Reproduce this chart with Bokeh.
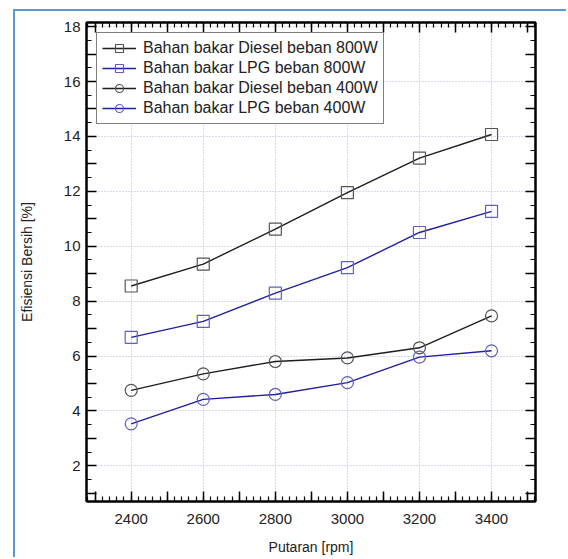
from bokeh.plotting import figure
from bokeh.models import (LinearAxis, SingleIntervalTicker, Range1d, Legend, LegendItem)
from bokeh.embed import file_html
from bokeh.resources import INLINE

rpm = [2400, 2600, 2800, 3000, 3200, 3400]
diesel_800 = [8.55, 9.35, 10.62, 11.95, 13.21, 14.07]
lpg_800 = [6.68, 7.26, 8.29, 9.22, 10.50, 11.27]
diesel_400 = [4.75, 5.35, 5.80, 5.93, 6.30, 7.46]
lpg_400 = [3.53, 4.42, 4.60, 5.03, 5.96, 6.19]

labels = ["Bahan bakar Diesel beban 800W", "Bahan bakar LPG beban 800W",
          "Bahan bakar Diesel beban 400W", "Bahan bakar LPG beban 400W"]

x_label = "Putaran [rpm]"
y_label = "Efisiensi Bersih [%]"

FONT = "Liberation Sans"
BLACK_LINE = "#1e1e1e"
BLUE_LINE = "#1f1fa0"
BLACK_MK = "#555555"
BLUE_MK = "#6060c0"

p = figure(frame_width=449, frame_height=479, output_backend="svg", toolbar_location=None,
           x_range=Range1d(2276, 3522), y_range=Range1d(0.7, 18.15),
           min_border_left=71, min_border_top=11, min_border_right=33, min_border_bottom=58,
           x_axis_location=None, y_axis_location=None)
p.margin = (11, 0, 0, 15)
p.styles = {"box-shadow": "-2px -2px 0px 0px #5b9bd5"}
p.background_fill_color = "white"
p.border_fill_color = "white"
p.outline_line_color = "black"
p.outline_line_width = 2

xt = SingleIntervalTicker(interval=100, num_minor_ticks=5)
yt = SingleIntervalTicker(interval=1, num_minor_ticks=2)
x_over = {v: "" for v in range(2200, 3700, 100) if v % 200 != 0}
y_over = {v: "" for v in range(0, 20) if v % 2 != 0}


def style_axis(ax, show_labels):
    ax.axis_line_color = "black"
    ax.axis_line_width = 2
    ax.major_tick_in = 10
    ax.major_tick_out = 0
    ax.minor_tick_in = 5
    ax.minor_tick_out = 0
    ax.major_tick_line_width = 1.5
    ax.minor_tick_line_width = 1.2
    ax.major_tick_line_color = "black"
    ax.minor_tick_line_color = "black"
    if show_labels:
        ax.major_label_text_font = FONT
        ax.major_label_text_font_size = "15px"
        ax.major_label_text_color = "#222222"
        ax.axis_label_text_font = FONT
        ax.axis_label_text_font_size = "14px"
        ax.axis_label_text_font_style = "normal"
        ax.axis_label_text_color = "#222222"
    else:
        ax.major_label_text_font_size = "0px"
        ax.major_label_text_color = None
        ax.major_label_standoff = 0


xb = LinearAxis(ticker=xt, axis_label=x_label, major_label_overrides=x_over)
style_axis(xb, True)
xb.major_label_standoff = 12
xb.axis_label_standoff = 12
p.add_layout(xb, "below")

yl = LinearAxis(ticker=yt, axis_label=y_label, major_label_overrides=y_over)
style_axis(yl, True)
yl.major_label_standoff = 6
yl.axis_label_standoff = 26
p.add_layout(yl, "left")

xa = LinearAxis(ticker=SingleIntervalTicker(interval=100, num_minor_ticks=5),
                major_label_overrides={v: "" for v in range(2200, 3700, 100)})
style_axis(xa, False)
p.add_layout(xa, "above")

yr = LinearAxis(ticker=SingleIntervalTicker(interval=1, num_minor_ticks=2),
                major_label_overrides={v: "" for v in range(0, 20)})
style_axis(yr, False)
p.add_layout(yr, "right")

p.xgrid.ticker = SingleIntervalTicker(interval=200)
p.ygrid.ticker = SingleIntervalTicker(interval=2)
for g in (p.xgrid, p.ygrid):
    g.grid_line_color = "#b4b4d4"
    g.grid_line_dash = "1 2"
    g.grid_line_width = 1

series = [
    (diesel_800, BLACK_LINE, BLACK_MK, "square"),
    (lpg_800, BLUE_LINE, BLUE_MK, "square"),
    (diesel_400, BLACK_LINE, BLACK_MK, "circle"),
    (lpg_400, BLUE_LINE, BLUE_MK, "circle"),
]
items = []
for (vals, lc, mc, mk), lab in zip(series, labels):
    r1 = p.line(rpm, vals, line_color=lc, line_width=1.4)
    r2 = p.scatter(rpm, vals, marker=mk, size=12, line_color=mc, fill_color=None, line_width=1.2)
    items.append(LegendItem(label=lab, renderers=[r1, r2]))

leg = Legend(items=items, location="top_left")
leg.margin = 10
leg.padding = 5
leg.spacing = 0
leg.label_height = 20
leg.glyph_height = 20
leg.glyph_width = 34
leg.label_standoff = 7
leg.label_text_font = FONT
leg.label_text_font_size = "16px"
leg.label_text_color = "#222222"
leg.border_line_color = "black"
leg.border_line_width = 1.5
leg.background_fill_color = "white"
leg.background_fill_alpha = 1
p.add_layout(leg, "center")

open("out.html", "w").write(file_html(p, INLINE))
